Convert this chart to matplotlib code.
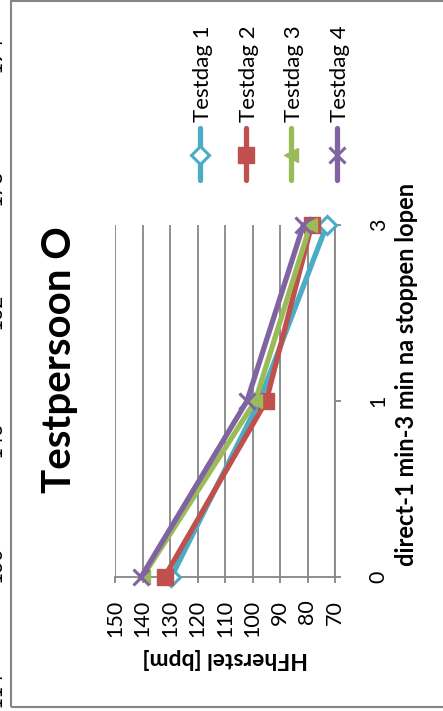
"Recovery heart rate chart for Testpersoon O, drawn rotated like the original sheet."

import matplotlib
matplotlib.use("Agg")
from matplotlib import pyplot as plt
from matplotlib.lines import Line2D
from matplotlib.patches import Rectangle

plt.rcParams['font.family'] = ['Lato', 'DejaVu Sans']

# ---------------------------------------------------------------------------
# Data
# ---------------------------------------------------------------------------
categories = ['0', '1', '3']
series_names = ['Testdag 1', 'Testdag 2', 'Testdag 3', 'Testdag 4']
testdag1 = [129.5, 97.5, 73.0]
testdag2 = [132.0, 95.0, 78.5]
testdag3 = [140.0, 99.0, 79.0]
testdag4 = [140.5, 102.0, 81.5]
value_ticks = [150, 140, 130, 120, 110, 100, 90, 80, 70]
edge_labels = ['114', '130', '146', '162', '178', '194']  # cut-off axis of neighbouring chart

colors = ['#4BACC6', '#C0504D', '#9BBB59', '#8064A2']
markers = ['D', 's', '<', 'x']
msizes = [9, 12, 10, 12]
grid_c = '#868686'

W, H = 443, 711


def fx(px):
    return px / W


def fy(py):
    return 1 - py / H


fig = plt.figure(figsize=(W / 100, H / 100), dpi=100)

# chart frame
fig.add_artist(Rectangle((fx(10.5), fy(707)), fx(460), fy(1) - fy(707),
                         transform=fig.transFigure, fill=False,
                         edgecolor=grid_c, linewidth=1.5))

ax = fig.add_axes([fx(115), fy(577), fx(335) - fx(115), fy(225) - fy(577)])
ax.set_xlim(150, 70)
ax.set_ylim(0, len(categories) - 1)
pos = list(range(len(categories)))

for name, vals, c, m, ms in zip(series_names, [testdag1, testdag2, testdag3, testdag4],
                                colors, markers, msizes):
    face = 'white' if m == 'D' else c
    ax.plot(vals, pos, color=c, linewidth=3.8, marker=m, markersize=ms,
            markerfacecolor=face, markeredgecolor=c,
            markeredgewidth=2.2 if m in ('D', 'x') else 1, clip_on=False, zorder=3)

# tick lengths/pads are in points (px * 0.72)
ax.set_xticks(value_ticks)
ax.set_xticklabels([str(v) for v in value_ticks], rotation=90, va='top', fontsize=15.5)
ax.grid(axis='x', color=grid_c, linewidth=1.3)
ax.set_axisbelow(True)
ax.tick_params(axis='x', direction='out', length=4.3, width=1.3, color=grid_c, pad=12)

ax.yaxis.tick_right()
ax.set_yticks(pos)
ax.set_yticklabels(categories, rotation=90, va='center', ha='left', fontsize=15.5)
ax.tick_params(axis='y', direction='out', length=4.3, width=1.3, color=grid_c, pad=20)

for s in ['top', 'left']:
    ax.spines[s].set_visible(False)
for s in ['bottom', 'right']:
    ax.spines[s].set_color(grid_c)
    ax.spines[s].set_linewidth(1.3)

# titles
fig.text(fx(60), fy(360), 'Testpersoon O', rotation=90, ha='center', va='center',
         fontsize=29, fontweight='bold')
fig.text(fx(225), fy(658), 'HFherstel [bpm]', rotation=180, ha='center', va='center',
         fontsize=16.5, fontweight='bold')
fig.text(fx(407), fy(374), 'direct-1 min-3 min na stoppen lopen', rotation=90,
         ha='center', va='center', fontsize=17, fontweight='bold')

# legend, vertical entries
leg_x = [200, 246, 291, 337]
for name, c, m, ms, x in zip(series_names, colors, markers, msizes, leg_x):
    face = 'white' if m == 'D' else c
    fig.add_artist(Line2D([fx(x), fx(x)], [fy(180), fy(128)], transform=fig.transFigure,
                          color=c, linewidth=3.8, solid_capstyle='round'))
    fig.add_artist(Line2D([fx(x)], [fy(155)], transform=fig.transFigure, color=c,
                          marker=m, markersize=ms, markerfacecolor=face, markeredgecolor=c,
                          markeredgewidth=2.2 if m in ('D', 'x') else 1, linestyle='none'))
    fig.text(fx(x + 3), fy(122), name, rotation=90, ha='center', va='bottom', fontsize=16)

# cut-off labels at the left edge
for lab, y in zip(edge_labels, [690, 565, 440, 312, 188, 55]):
    fig.text(fx(-5), fy(y), lab, rotation=90, ha='center', va='center', fontsize=15)

fig.savefig('out.png', dpi=100)
